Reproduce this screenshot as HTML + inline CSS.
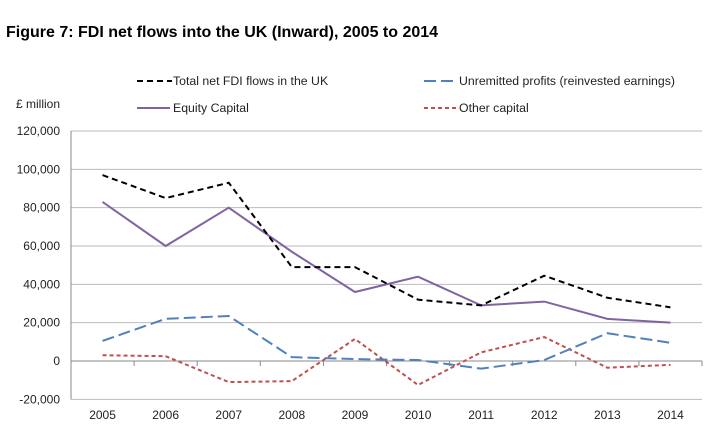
<!DOCTYPE html>
<html><head><meta charset="utf-8"><style>
body{margin:0;background:#fff;font-family:"Liberation Sans",sans-serif}
svg text{font-family:"Liberation Sans",sans-serif}
</style></head><body>
<svg width="727" height="438" id="c">
<text x="6" y="37" font-size="16" font-weight="bold" fill="#000">Figure 7: FDI net flows into the UK (Inward), 2005 to 2014</text>
<text x="16" y="108" font-size="12" fill="#222">£ million</text>
<g>
<line x1="137" y1="81" x2="172" y2="81" stroke="#000" stroke-width="2" stroke-dasharray="6,4"/>
<text x="173" y="85" font-size="12.3" fill="#222">Total net FDI flows in the UK</text>
<line x1="137" y1="108" x2="170" y2="108" stroke="#8064a2" stroke-width="2"/>
<text x="173" y="112" font-size="12.3" fill="#222">Equity Capital</text>
<line x1="424" y1="81" x2="458" y2="81" stroke="#4f81bd" stroke-width="2" stroke-dasharray="12,5"/>
<text x="459" y="85" font-size="12.3" fill="#222">Unremitted profits (reinvested earnings)</text>
<line x1="424" y1="108" x2="458" y2="108" stroke="#c0504d" stroke-width="2" stroke-dasharray="4,3"/>
<text x="459" y="112" font-size="12.3" fill="#222">Other capital</text>
</g>
<g id="plot"></g>
</svg>
<script>
const years=["2005","2006","2007","2008","2009","2010","2011","2012","2013","2014"];
const yTicks=[-20000,0,20000,40000,60000,80000,100000,120000];
const total=[97000,85000,93000,49000,49000,32000,29000,44500,33000,28000];
const equity=[83000,60000,80000,57000,36000,44000,29000,31000,22000,20000];
const unremitted=[10500,22000,23500,2000,1000,500,-4000,500,14500,9500];
const other=[3000,2500,-11000,-10500,11500,-12500,4500,12500,-3500,-2000];
const L=71,R=702,Y0=361,Ytop=131;
const step=(R-L)/years.length;
const x=i=>L+step*(i+0.5);
const y=v=>Y0-(v/120000)*(Y0-Ytop);
const g=document.getElementById('plot');
const NS="http://www.w3.org/2000/svg";
function mk(t,a){const e=document.createElementNS(NS,t);for(const k in a)e.setAttribute(k,a[k]);g.appendChild(e);return e;}
yTicks.forEach(v=>{
 const l=mk('line',{x1:L,x2:R,y1:y(v),y2:y(v),stroke:v===0?'#888':'#bbb','stroke-width':1});
 
 
 const t=mk('text',{x:60,y:y(v)+4,'text-anchor':'end','font-size':12,fill:'#222'});
 t.textContent=v.toLocaleString('en-US');
 
 
});
const ax=mk('line',{x1:L,x2:L,y1:Ytop,y2:y(-20000),stroke:'#888'});


years.forEach((yr,i)=>{
 const tk=mk('line',{x1:L+step*(i+1),x2:L+step*(i+1),y1:Y0,y2:Y0+5,stroke:'#888'});
 
 
 const t=mk('text',{x:x(i),y:419,'text-anchor':'middle','font-size':12,fill:'#222'});
 t.textContent=yr;
 
 
});
function series(d,col,dash,name){
 const p=mk('polyline',{points:d.map((v,i)=>x(i)+','+y(v)).join(' '),fill:'none',stroke:col,'stroke-width':2,'stroke-dasharray':dash});
 
 
}
series(other,'#c0504d','4,3','other-capital-line');
series(unremitted,'#4f81bd','12,5','unremitted-profits-line');
series(equity,'#8064a2','none','equity-capital-line');
series(total,'#000','6,4','total-fdi-line');
</script>
</body></html>
